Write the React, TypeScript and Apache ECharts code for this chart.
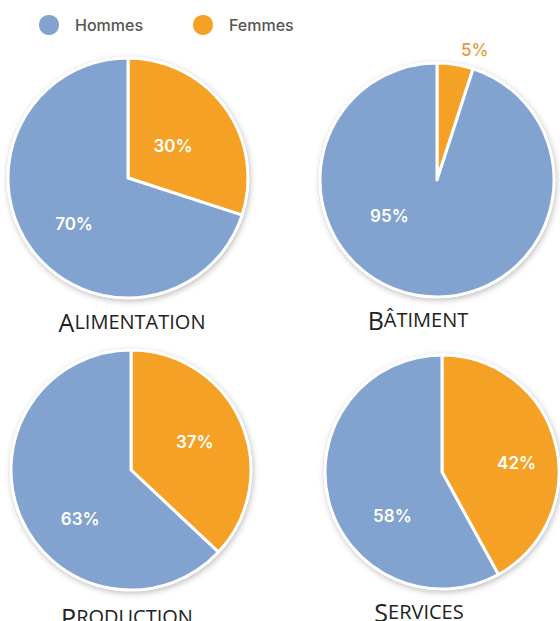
import React, { useEffect, useRef } from "react";
import * as echarts from "echarts";

const categories = ["Alimentation", "Bâtiment", "Production", "Services"];
const hommes = [70, 95, 63, 58];
const femmes = [30, 5, 37, 42];
const seriesNames = ["Hommes", "Femmes"];

const BLUE = "#82A2CF";
const ORANGE = "#F5A126";

// layout
const centers = [
  [128, 178],
  [437, 180],
  [131, 470],
  [442, 472],
];
const radii = [120, 117, 120, 117];
const titlePos = [
  [127, 316],
  [413, 314],
  [122, 611],
  [414, 606],
];
const femLabelOffset = [
  [-6, 5],
  [28, -69],
  [6, -3],
  [15, 6],
];
const homLabelOffset = [
  [-3, 9],
  [-38, -25],
  [7, 24],
  [10, 29],
];

export default function App() {
  const ref = useRef<HTMLDivElement>(null);
  useEffect(() => {
    if (!ref.current) return;
    const chart = echarts.init(ref.current, null, { renderer: "svg" });
    const series: any[] = [];
    categories.forEach((cat, i) => {
      series.push({
        type: "pie",
        name: cat + "-bg",
        silent: true,
        center: centers[i],
        radius: radii[i] + 1,
        label: { show: false },
        labelLine: { show: false },
        itemStyle: {
          color: "#ffffff",
          shadowBlur: 6,
          shadowColor: "rgba(0,0,0,0.28)",
          shadowOffsetX: 1,
          shadowOffsetY: 2,
        },
        data: [{ value: 1, name: cat }],
        z: 1,
      });
      series.push({
        type: "pie",
        name: cat,
        center: centers[i],
        radius: radii[i],
        startAngle: 90,
        clockwise: true,
        silent: true,
        z: 2,
        itemStyle: { borderColor: "#ffffff", borderWidth: 3 },
        labelLine: { show: false },
        label: {
          show: true,
          position: "inside",
          formatter: "{c}%",
          color: "#ffffff",
          fontFamily: "Inter",
          fontSize: 17,
          fontWeight: 600,
        },
        data: [
          {
            value: femmes[i],
            name: seriesNames[1],
            itemStyle: { color: ORANGE },
            label: {
              offset: femLabelOffset[i],
              color: femmes[i] < 10 ? "#E8973A" : "#ffffff",
              fontWeight: femmes[i] < 10 ? 500 : 600,
            },
          },
          {
            value: hommes[i],
            name: seriesNames[0],
            itemStyle: { color: BLUE },
            label: { offset: homLabelOffset[i] },
          },
        ],
      });
    });

    const titles = categories.map((cat, i) => {
      const up = cat.toUpperCase();
      return {
        text: "{a|" + up.charAt(0) + "}{b|" + up.slice(1) + "}",
        left: titlePos[i][0],
        top: titlePos[i][1] - 12,
        textAlign: "center",
        textStyle: {
          rich: {
            a: { fontFamily: "Open Sans", fontSize: 25, color: "#222", fontWeight: 400 },
            b: { fontFamily: "Open Sans", fontSize: 20, color: "#222", fontWeight: 400 },
          },
        },
      };
    });

    chart.setOption({
      animation: false,
      title: titles,
      legend: {
        data: seriesNames,
        left: 32,
        top: 8,
        icon: "circle",
        itemWidth: 22,
        itemHeight: 22,
        itemGap: 48,
        selectedMode: false,
        textStyle: {
          fontFamily: "Inter",
          fontSize: 16,
          fontWeight: 500,
          color: "#555",
          padding: [0, 0, 0, 10],
        },
      },
      series,
    });
    return () => chart.dispose();
  }, []);
  return (
    <div
      ref={ref}
      style={{ position: "fixed", left: 0, top: 0, width: 560, height: 621, background: "#fff" }}
    />
  );
}
